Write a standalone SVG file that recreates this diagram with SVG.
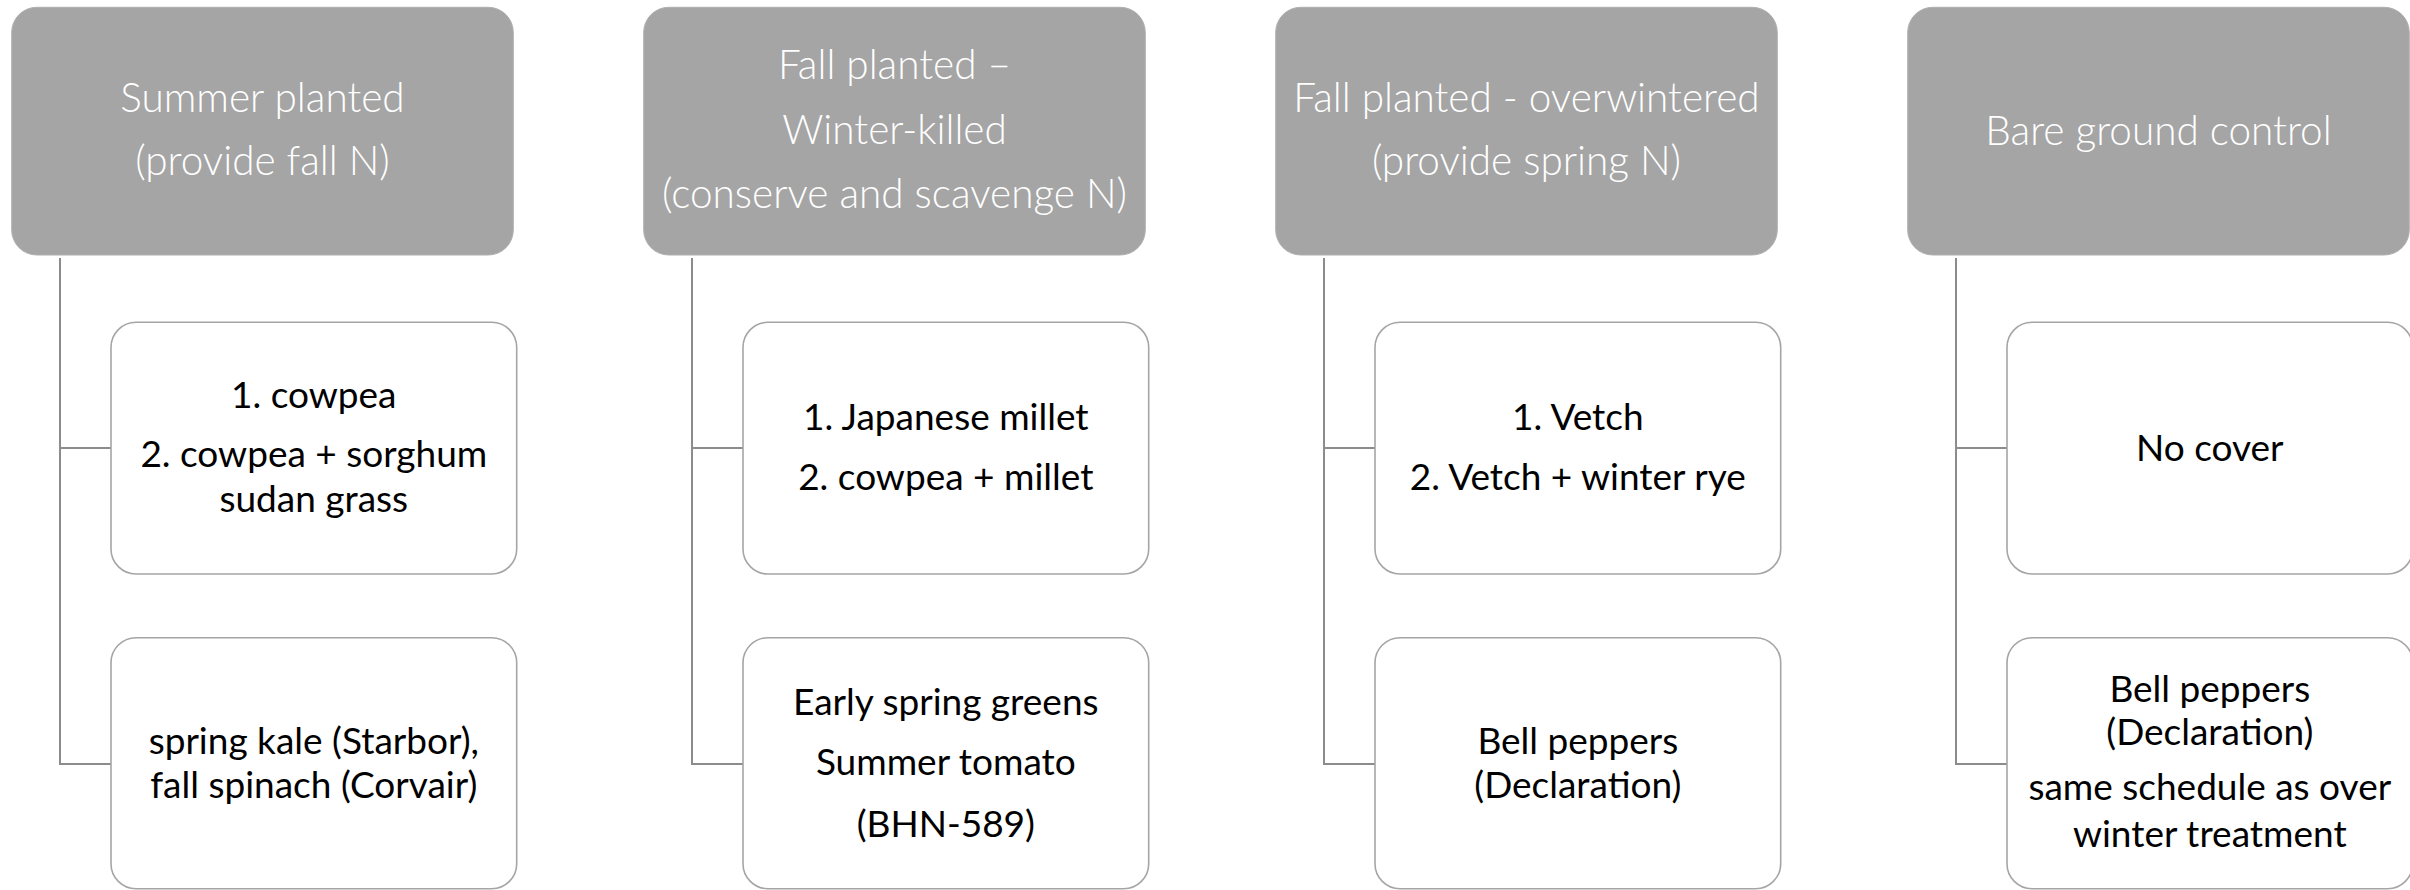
<svg xmlns="http://www.w3.org/2000/svg" width="2410" height="890" viewBox="0 0 2410 890">
<style>
.hdr{fill:#A5A5A5;stroke:#B0B0B0;stroke-width:1}
.child{fill:#FFFFFF;stroke:#A5A5A5;stroke-width:1.6}
.conn{fill:none;stroke:#8C8C8C;stroke-width:2}
.ht{font-family:Lato,"Open Sans","Liberation Sans",sans-serif;font-weight:300;font-size:40.5px;fill:#FFFFFF;text-anchor:middle}
.ct{font-family:Lato,"Open Sans","Liberation Sans",sans-serif;font-size:37px;fill:#000000;text-anchor:middle}
</style>
<rect width="2410" height="890" fill="#FFFFFF"/>
<g id="connectors">
<path class="conn" d="M60 258V764H111M60 448H111"/>
<path class="conn" d="M692 258V764H743M692 448H743"/>
<path class="conn" d="M1324 258V764H1375M1324 448H1375"/>
<path class="conn" d="M1956 258V764H2007M1956 448H2007"/>
</g>
<g id="h1"><rect class="hdr" x="11.7" y="7.3" width="501.6" height="247.7" rx="25"/>
<text class="ht" x="262.5" y="111.7">Summer planted</text><text class="ht" x="262.5" y="175">(provide fall N)</text></g>
<g id="h2"><rect class="hdr" x="643.7" y="7.3" width="501.6" height="247.7" rx="25"/>
<text class="ht" x="894.5" y="79.3">Fall planted –</text><text class="ht" x="894.5" y="143.5">Winter-killed</text><text class="ht" x="894.5" y="208.3">(conserve and scavenge N)</text></g>
<g id="h3"><rect class="hdr" x="1275.7" y="7.3" width="501.6" height="247.7" rx="25"/>
<text class="ht" x="1526.5" y="111.7">Fall planted - overwintered</text><text class="ht" x="1526.5" y="175">(provide spring N)</text></g>
<g id="h4"><rect class="hdr" x="1907.7" y="7.3" width="501.6" height="247.7" rx="25"/>
<text class="ht" x="2158.5" y="145">Bare ground control</text></g>
<g id="c1a"><rect class="child" x="111" y="322.3" width="405.7" height="251.7" rx="25"/>
<text class="ct" x="313.8" y="408.3">1. cowpea</text><text class="ct" x="313.8" y="466.7">2. cowpea + sorghum</text><text class="ct" x="313.8" y="511.7">sudan grass</text></g>
<g id="c1b"><rect class="child" x="111" y="637.7" width="405.7" height="251" rx="25"/>
<text class="ct" x="313.8" y="754">spring kale (Starbor),</text><text class="ct" x="313.8" y="798">fall spinach (Corvair)</text></g>
<g id="c2a"><rect class="child" x="743" y="322.3" width="405.7" height="251.7" rx="25"/>
<text class="ct" x="945.8" y="430">1. Japanese millet</text><text class="ct" x="945.8" y="490">2. cowpea + millet</text></g>
<g id="c2b"><rect class="child" x="743" y="637.7" width="405.7" height="251" rx="25"/>
<text class="ct" x="945.8" y="715">Early spring greens</text><text class="ct" x="945.8" y="775">Summer tomato</text><text class="ct" x="945.8" y="837">(BHN-589)</text></g>
<g id="c3a"><rect class="child" x="1375" y="322.3" width="405.7" height="251.7" rx="25"/>
<text class="ct" x="1577.8" y="430">1. Vetch</text><text class="ct" x="1577.8" y="490">2. Vetch + winter rye</text></g>
<g id="c3b"><rect class="child" x="1375" y="637.7" width="405.7" height="251" rx="25"/>
<text class="ct" x="1577.8" y="754">Bell peppers</text><text class="ct" x="1577.8" y="798">(Declaration)</text></g>
<g id="c4a"><rect class="child" x="2007" y="322.3" width="405.7" height="251.7" rx="25"/>
<text class="ct" x="2209.8" y="461">No cover</text></g>
<g id="c4b"><rect class="child" x="2007" y="637.7" width="405.7" height="251" rx="25"/>
<text class="ct" x="2209.8" y="701.5">Bell peppers</text><text class="ct" x="2209.8" y="745">(Declaration)</text><text class="ct" x="2209.8" y="800">same schedule as over</text><text class="ct" x="2209.8" y="847">winter treatment</text></g>
</svg>
